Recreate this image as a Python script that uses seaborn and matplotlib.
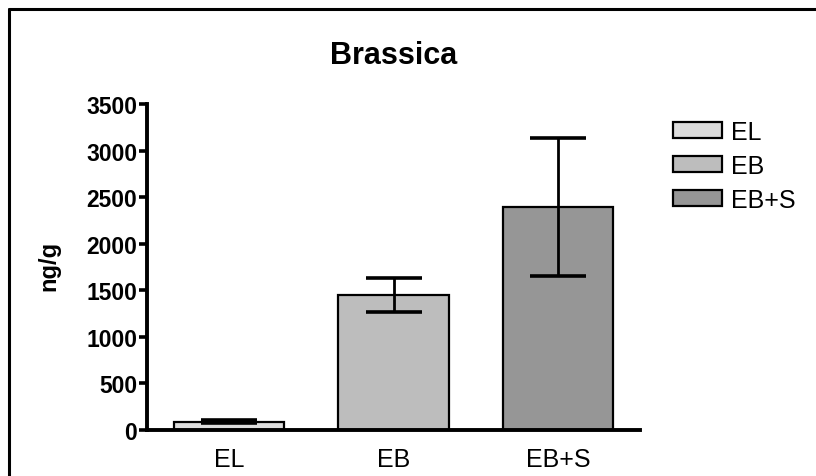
import matplotlib
matplotlib.use("Agg")
import matplotlib.pyplot as plt
from matplotlib.patches import Patch
from matplotlib.lines import Line2D
import seaborn as sns
import pandas as pd

# Brassica content per treatment (ng/g), mean and error
groups = ["EL", "EB", "EB+S"]
means = [88, 1450, 2390]
errors = [18, 180, 740]
bar_colors = ["#dcdcdc", "#bdbdbd", "#969696"]
y_ticks = [0, 500, 1000, 1500, 2000, 2500, 3000, 3500]

sns.set_theme(style="white")
plt.rcParams["font.family"] = ["Liberation Sans", "DejaVu Sans"]
plt.rcParams.update({"text.color": "black", "axes.labelcolor": "black",
                     "xtick.color": "black", "ytick.color": "black"})

df = pd.DataFrame({"group": groups, "value": means})

W, H = 816, 477
fig = plt.figure(figsize=(W / 100, H / 100), dpi=100)
ax = fig.add_axes([147 / W, (H - 431) / H, (640 - 147) / W, (431 - 105) / H])

sns.barplot(data=df, x="group", y="value", hue="group", order=groups,
            palette=dict(zip(groups, bar_colors)), legend=False,
            edgecolor="black", linewidth=1.6, width=0.67, errorbar=None, ax=ax)
ax.errorbar(range(len(groups)), means, yerr=errors, fmt="none",
            ecolor="black", elinewidth=2.0, capsize=20, capthick=2.6, zorder=5)

ax.set_xlim(-0.5, 2.5)
ax.set_ylim(0, 3500)
ax.set_yticks(y_ticks)
ax.set_yticklabels([str(t) for t in y_ticks], fontsize=16.5, fontweight="bold")
ax.tick_params(axis="y", direction="out", length=6, width=2.6, left=True, pad=1)
ax.tick_params(axis="x", length=0, pad=12, labelsize=18)
ax.set_xlabel("")
ax.set_ylabel("ng/g", fontsize=17, fontweight="bold")
ax.yaxis.set_label_coords(-0.176, 0.506)
for side in ["top", "right"]:
    ax.spines[side].set_visible(False)
for side in ["left", "bottom"]:
    ax.spines[side].set_linewidth(2.8)
    ax.spines[side].set_color("black")

ax.set_title("Brassica", fontsize=22, fontweight="bold", pad=29.5)

handles = [Patch(facecolor=c, edgecolor="black", linewidth=1.6, label=g)
           for g, c in zip(groups, bar_colors)]
fig.legend(handles=handles, loc="upper left", bbox_to_anchor=(663 / W, 1 - 111 / H),
           frameon=False, fontsize=18, handlelength=1.96, handleheight=0.6,
           handletextpad=0.36, labelspacing=0.4, borderaxespad=0)

# outer frame lines (left and top)
fig.add_artist(Line2D([9 / W, 9 / W], [0, 1 - 10 / H], color="black", linewidth=2.2,
                      transform=fig.transFigure))
fig.add_artist(Line2D([9 / W, 1], [1 - 10 / H, 1 - 10 / H], color="black", linewidth=2.2,
                      transform=fig.transFigure))

fig.savefig("out.png", dpi=100)
